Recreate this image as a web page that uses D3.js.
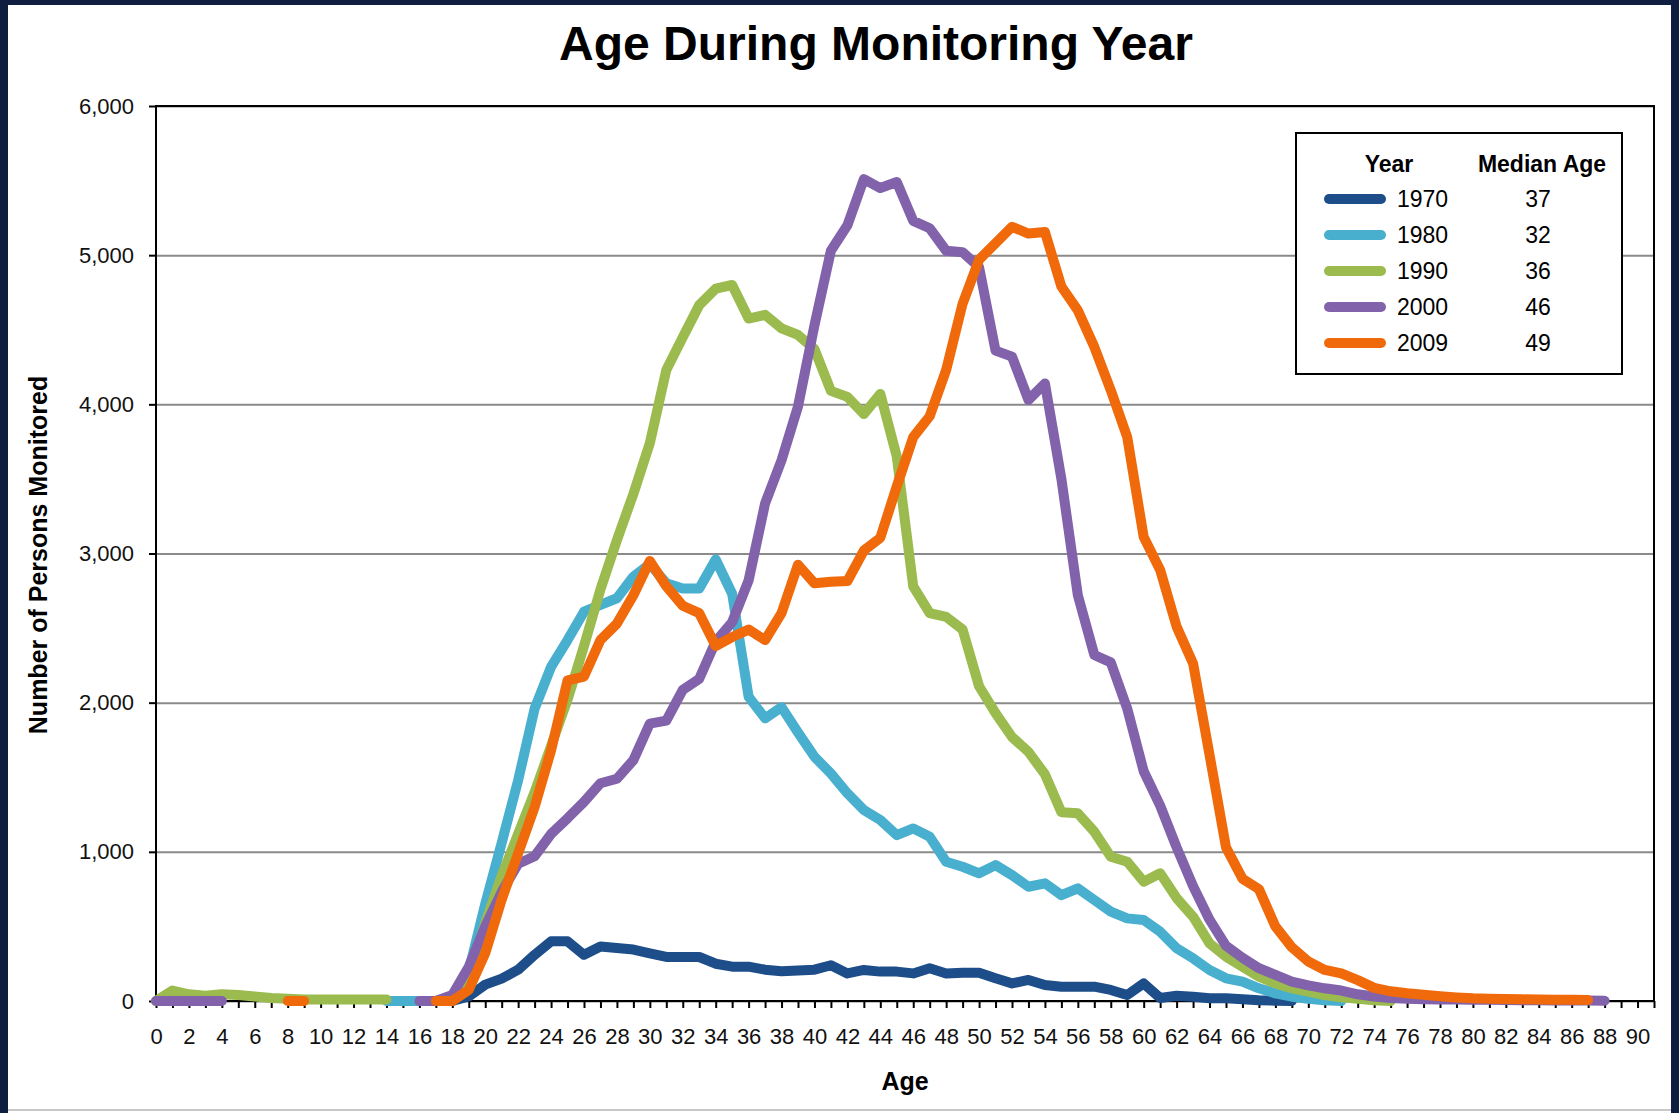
<!DOCTYPE html>
<html>
<head>
<meta charset="utf-8">
<script src="https://cdn.jsdelivr.net/npm/d3@7"></script>
<style>
  html, body { margin: 0; padding: 0; background: #0e1d40; }
  svg { display: block; font-family: "Liberation Sans", Arial, sans-serif; }
  .title { font-size: 48px; font-weight: bold; }
  .axis-label { font-size: 25px; font-weight: bold; }
  .legend-head { font-size: 23px; font-weight: bold; }
  .legend-text { font-size: 23px; }
</style>
</head>
<body>
<svg width="1679" height="1113"></svg>
<script>
'use strict';

const _ = null;

// ages 0..88
const ages = d3.range(0, 89);

const v1970 = [
  _, _, _, _, _, _, _, _, _, _, _, _, _, _, _, _, _, _,
  0, 30, 110, 150, 210, 310, 400, 400, 310, 365, 355, 345, 320, 295, 295, 295,
  250, 230, 230, 210, 200, 205, 210, 240, 185, 208, 197, 197, 185, 219, 185, 190,
  190, 152, 118, 141, 107, 96, 96, 96, 74, 40, 118, 20, 35, 29, 18, 18, 11, 5, 2, 0,
  _, _, _, _, _, _, _, _, _, _, _, _, _, _, _, _, _, _, _
];

const v1980 = [
  _, _, _, _, _, _, _, _, _, _, _, _, _, _,
  0, 0, 0, 0, 20, 200, 650, 1060, 1480, 1960, 2240, 2420, 2610, 2655, 2700, 2845,
  2930, 2800, 2765, 2765, 2960, 2730, 2040, 1895, 1970, 1800, 1637, 1525, 1392, 1280,
  1213, 1112, 1157, 1101, 934, 900, 856, 911, 844, 766, 789, 710, 755, 677, 599, 554,
  543, 465, 353, 286, 208, 152, 130, 85, 51, 29, 15, 5, 0,
  _, _, _, _, _, _, _, _, _, _, _, _, _, _, _, _
];

const v1990 = [
  0, 70, 45, 35, 45, 40, 30, 20, 15, 10, 10, 10, 10, 10, 10,
  _, _, _,
  20, 170, 520, 840, 1120, 1400, 1710, 2020, 2380, 2760, 3090, 3400, 3740, 4230,
  4450, 4665, 4775, 4800, 4575, 4600, 4510, 4465, 4370, 4090, 4050, 3935, 4070, 3650,
  2780, 2600, 2575, 2490, 2110, 1930, 1770, 1670, 1520, 1265, 1258, 1135, 967, 934,
  800, 856, 690, 565, 386, 297, 230, 163, 118, 85, 63, 40, 25, 15, 5, 0,
  _, _, _, _, _, _, _, _, _, _, _, _, _
];

const v2000 = [
  0, 0, 0, 0, 0,
  _, _, _, _, _, _, _, _, _, _, _,
  0, 0, 40, 230, 500, 730, 920, 970, 1120, 1225, 1335, 1460, 1490, 1615, 1860, 1880,
  2085, 2160, 2410, 2540, 2820, 3335, 3625, 3985, 4530, 5030, 5200, 5510, 5450, 5490,
  5230, 5180, 5030, 5020, 4920, 4360, 4320, 4030, 4140, 3500, 2720, 2320, 2270, 1960,
  1540, 1310, 1030, 770, 545, 370, 290, 220, 175, 130, 105, 85, 70, 45, 30, 20, 15,
  12, 10, 10, 8, 8, 6, 5, 5, 4, 3, 3, 2
];

const v2009 = [
  _, _, _, _, _, _, _, _,
  0, 0,
  _, _, _, _, _, _, _,
  0, 0, 75, 320, 680, 990, 1300, 1680, 2150, 2175, 2420, 2530, 2720, 2950, 2780,
  2650, 2600, 2380, 2440, 2490, 2420, 2600, 2925, 2800, 2810, 2815, 3020, 3105, 3450,
  3780, 3920, 4230, 4675, 4970, 5080, 5190, 5145, 5155, 4790, 4630, 4385, 4095, 3780,
  3110, 2890, 2510, 2263, 1650, 1030, 820, 750, 500, 360, 265, 208, 185, 140, 88, 65,
  52, 42, 32, 24, 18, 15, 13, 11, 10, 9, 8, 7,
  _
];

const years = ['1970', '1980', '1990', '2000', '2009'];
const medianAges = [37, 32, 36, 46, 49];
const seriesValues = [v1970, v1980, v1990, v2000, v2009];
const colors = ['#1d4e8a', '#49afcf', '#9bbb4f', '#8262aa', '#f06a0c'];

const yTicks = [0, 1000, 2000, 3000, 4000, 5000, 6000];
const xTicks = d3.range(0, 92);
const xLabels = d3.range(0, 91, 2);

const svg = d3.select('svg');
const width = +svg.attr('width');
const height = +svg.attr('height');

// white panel inside the dark frame
svg.append('rect')
  .attr('x', 8).attr('y', 5)
  .attr('width', width - 16).attr('height', height - 5)
  .attr('fill', '#fff');
svg.append('line')
  .attr('x1', 8).attr('x2', width - 8)
  .attr('y1', 1110).attr('y2', 1110)
  .attr('stroke', '#c8c8c8').attr('stroke-width', 2);

const margin = { top: 106, right: 25, bottom: 112, left: 156 };
const innerWidth = width - margin.left - margin.right;
const innerHeight = height - margin.top - margin.bottom;

const xScale = d3.scaleLinear().domain([0, 91]).range([0, innerWidth]);
const yScale = d3.scaleLinear().domain([0, 6000]).range([innerHeight, 0]);

const g = svg.append('g')
  .attr('transform', `translate(${margin.left},${margin.top})`);

// gridlines
const gridG = g.append('g')
  .call(d3.axisLeft(yScale).tickValues(yTicks).tickSize(-innerWidth).tickFormat(''));
gridG.select('.domain').remove();
gridG.selectAll('text').remove();
gridG.selectAll('line').attr('stroke', '#8a8a8a').attr('stroke-width', 2);

// y axis
const yAxisG = g.append('g')
  .call(d3.axisLeft(yScale).tickValues(yTicks).tickSize(7).tickPadding(15)
    .tickFormat(d3.format(',')));
yAxisG.attr('font-size', 22).attr('font-family', '"Liberation Sans", Arial, sans-serif');
yAxisG.select('.domain').remove();
yAxisG.selectAll('line').attr('stroke', '#000').attr('stroke-width', 2);
yAxisG.selectAll('text').attr('fill', '#111');

// x axis: a tick at every age, a label at every second one
const xTickG = g.append('g')
  .attr('transform', `translate(0,${innerHeight})`)
  .call(d3.axisBottom(xScale).tickValues(xTicks).tickSize(7));
xTickG.select('.domain').remove();
xTickG.selectAll('text').remove();
xTickG.selectAll('line').attr('stroke', '#000').attr('stroke-width', 2);

const xAxisG = g.append('g')
  .attr('transform', `translate(0,${innerHeight})`)
  .call(d3.axisBottom(xScale).tickValues(xLabels).tickSize(7).tickPadding(20));
xAxisG.attr('font-size', 22).attr('font-family', '"Liberation Sans", Arial, sans-serif');
xAxisG.select('.domain').remove();
xAxisG.selectAll('line').remove();
xAxisG.selectAll('text').attr('fill', '#111');

// plot frame
g.append('rect')
  .attr('width', innerWidth).attr('height', innerHeight)
  .attr('fill', 'none').attr('stroke', '#000').attr('stroke-width', 2);

// lines
const line = d3.line()
  .defined(d => d.value !== null)
  .x(d => xScale(d.age))
  .y(d => yScale(d.value));

seriesValues.forEach((vals, i) => {
  const data = ages.map((a, j) => ({ age: a, value: vals[j] === undefined ? null : vals[j] }));
  g.append('path')
    .datum(data)
    .attr('d', line)
    .attr('fill', 'none')
    .attr('stroke', colors[i])
    .attr('stroke-width', 10)
    .attr('stroke-linejoin', 'round')
    .attr('stroke-linecap', 'round');
});

// title
svg.append('text')
  .attr('class', 'title')
  .attr('x', 876).attr('y', 60)
  .attr('text-anchor', 'middle')
  .text('Age During Monitoring Year');

// axis titles
svg.append('text')
  .attr('class', 'axis-label')
  .attr('transform', 'translate(47,555) rotate(-90)')
  .attr('text-anchor', 'middle')
  .text('Number of Persons Monitored');

svg.append('text')
  .attr('class', 'axis-label')
  .attr('x', margin.left + innerWidth / 2).attr('y', 1090)
  .attr('text-anchor', 'middle')
  .text('Age');

// legend
const legend = svg.append('g').attr('transform', 'translate(1296,133)');
legend.append('rect')
  .attr('width', 326).attr('height', 241)
  .attr('fill', '#fff').attr('stroke', '#000').attr('stroke-width', 2);
legend.append('text').attr('class', 'legend-head')
  .attr('x', 93).attr('y', 39).attr('text-anchor', 'middle').text('Year');
legend.append('text').attr('class', 'legend-head')
  .attr('x', 246).attr('y', 39).attr('text-anchor', 'middle').text('Median Age');

const rows = legend.selectAll('.row').data(years).enter().append('g')
  .attr('class', 'row')
  .attr('transform', (d, i) => `translate(0,${66 + i * 36})`);
rows.append('line')
  .attr('x1', 33).attr('x2', 85)
  .attr('stroke', (d, i) => colors[i])
  .attr('stroke-width', 10)
  .attr('stroke-linecap', 'round');
rows.append('text').attr('class', 'legend-text')
  .attr('x', 101).attr('dy', '0.36em').text(d => d);
rows.append('text').attr('class', 'legend-text')
  .attr('x', 242).attr('dy', '0.36em').attr('text-anchor', 'middle')
  .text((d, i) => medianAges[i]);
</script>
</body>
</html>
